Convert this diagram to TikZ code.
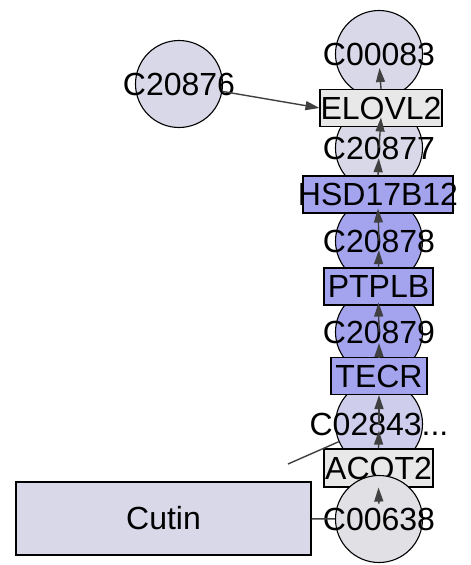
\documentclass[tikz,border=0pt]{standalone}
\usepackage{fontspec}
\setmainfont{Liberation Sans}
\usetikzlibrary{arrows.meta,calc}

\definecolor{metfill}{RGB}{216,216,232}
\definecolor{hifill}{RGB}{163,163,238}
\definecolor{midfill}{RGB}{206,206,236}
\definecolor{enzfill}{RGB}{232,232,232}
\definecolor{startfill}{RGB}{224,224,229}
\definecolor{edgegray}{RGB}{64,64,64}

\begin{document}
\begin{tikzpicture}[x=1pt,y=-1pt,
    font=\fontsize{32}{37}\selectfont,
    met/.style={circle,draw,line width=1.1pt,minimum size=87pt,inner sep=0pt},
    enz/.style={rectangle,draw,line width=1.1pt,minimum height=37pt,inner sep=0pt},
    rxnarrow/.style={draw=edgegray,line width=1.4pt,-{Triangle[length=14pt,width=9pt]}},
    plainlink/.style={draw=edgegray,line width=1.4pt},
    every label/.style={inner sep=0pt}]
    \useasboundingbox (0,0) rectangle (471,565);

    \node[met,fill=metfill,label=center:C20876] (c20876) at (179,84) {};
    \node[met,fill=metfill,label=center:C00083] (c00083) at (379,54) {};
    \node[met,fill=metfill,label=center:C20877] (c20877) at (379,148) {};
    \node[met,fill=hifill,label=center:C20878] (c20878) at (379,241) {};
    \node[met,fill=hifill,label=center:C20879] (c20879) at (379,332) {};
    \node[met,fill=midfill,label=center:C02843...] (c02843) at (379,424) {};

    \node[enz,fill=enzfill,minimum width=122pt,label=center:ELOVL2] (elovl2) at (381,108) {};
    \node[enz,fill=hifill,minimum width=150pt,label=center:HSD17B12] (hsd17b12) at (378,194.5) {};
    \node[enz,fill=hifill,minimum width=109pt,label=center:PTPLB] (ptplb) at (378.5,286.5) {};
    \node[enz,fill=hifill,minimum width=96pt,label=center:TECR] (tecr) at (379,376) {};
    \node[enz,fill=enzfill,minimum width=109pt,minimum height=38pt,label=center:ACOT2] (acot2) at (378.5,468) {};

    \node[met,fill=startfill,label=center:C00638] (c00638) at (379,519) {};
    \node[enz,fill=metfill,minimum width=295pt,minimum height=73pt,label=center:Cutin] (cutin) at (163.5,518.5) {};

    \draw[plainlink] (cutin) -- (c00638);
    \coordinate (stub) at (288,464);
    \draw[plainlink] (stub) -- (c02843);

    \draw[rxnarrow] (c20876) -- (elovl2.west);
    \draw[rxnarrow] (elovl2.north) -- ($(c00083)!0.26!(elovl2)$);
    \draw[rxnarrow] (c20877.center) -- ($(elovl2)!0.5!(elovl2.south)$);
    \draw[rxnarrow] (hsd17b12.north) -- ($(c20877)!0.22!(hsd17b12)$);
    \draw[rxnarrow] (c20878.center) -- ([yshift=5pt]hsd17b12.south);
    \draw[rxnarrow] (ptplb.north) -- ($(c20878)!0.2!(ptplb)$);
    \draw[rxnarrow] (c20879.center) -- ([yshift=3pt]ptplb.south);
    \draw[rxnarrow] (tecr.north) -- ($(c20879)!0.25!(tecr)$);
    \draw[rxnarrow] (c02843.center) -- (tecr.south);
    \draw[rxnarrow] (acot2.north) -- ($(c02843)!0.15!(acot2)$);
    \draw[rxnarrow] ($(c00638)!0.3!(acot2)$) -- (acot2.south);
\end{tikzpicture}
\end{document}
